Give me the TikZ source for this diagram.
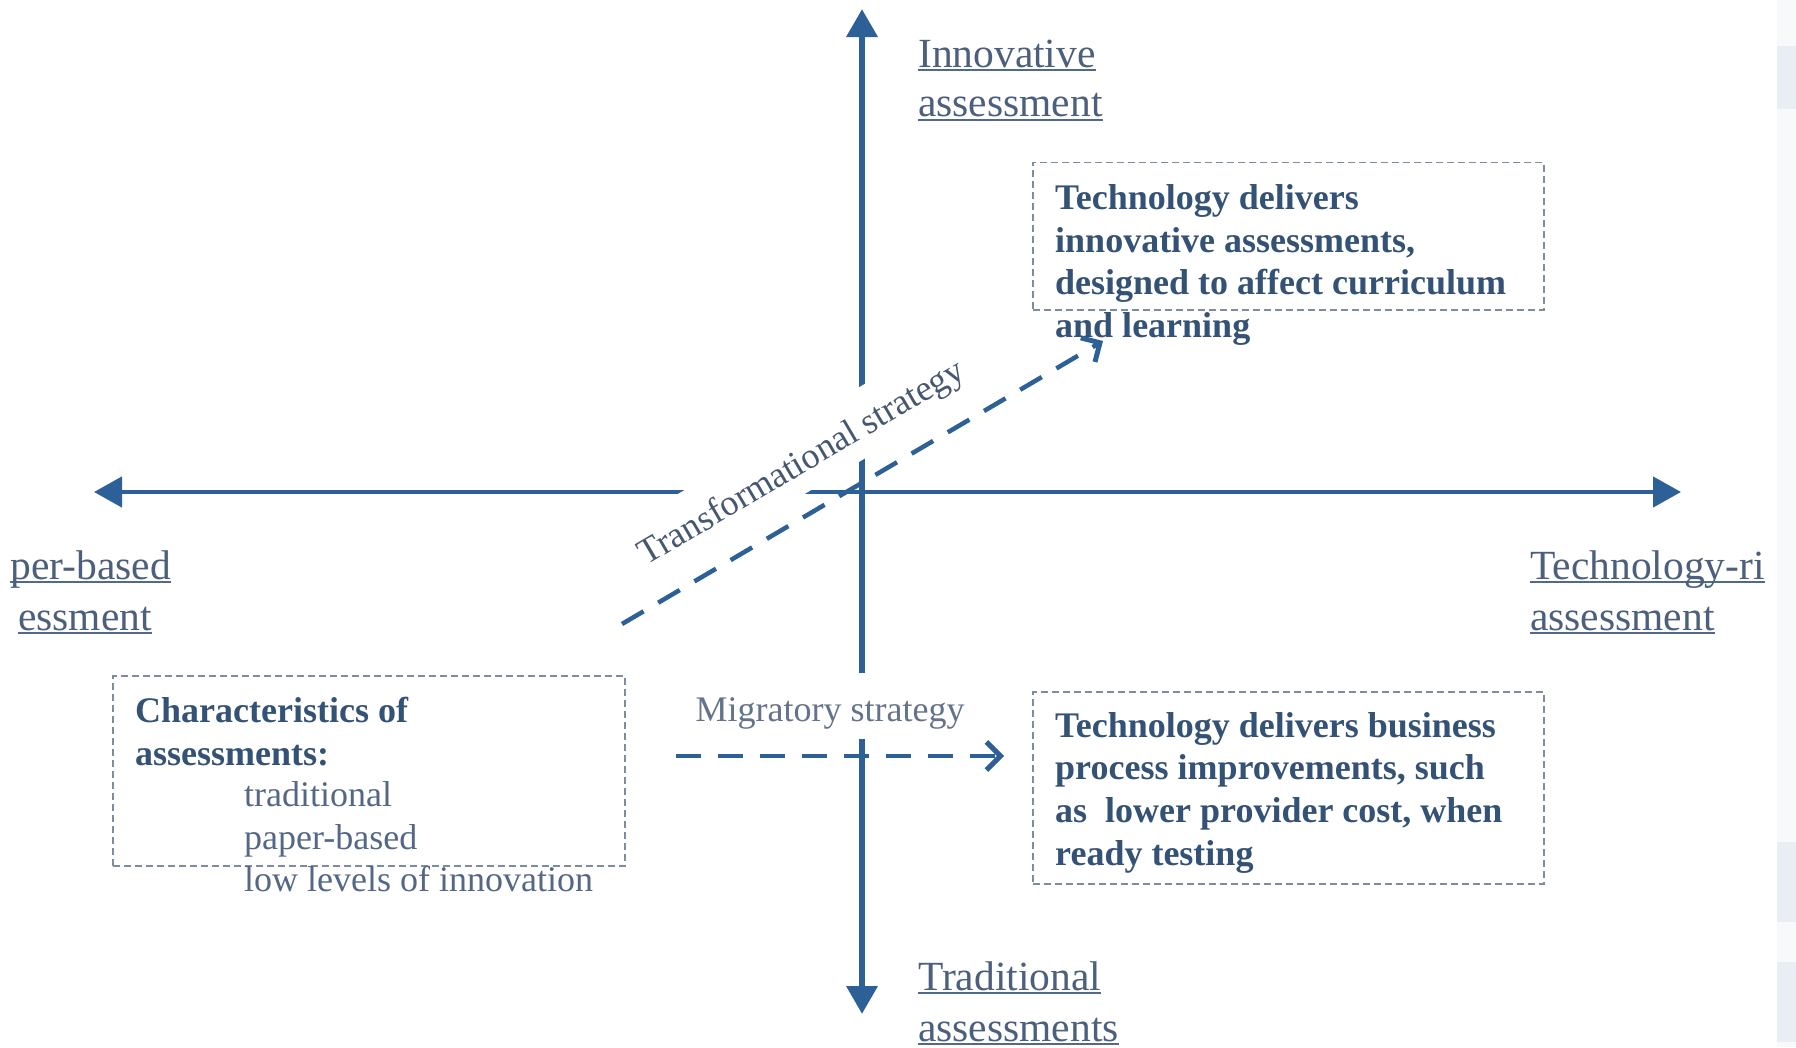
\documentclass[tikz,border=0pt]{standalone}
\usepackage{fontspec}
\setmainfont{Liberation Serif}
\usetikzlibrary{arrows.meta}
\definecolor{axisblue}{RGB}{46,96,152}
\definecolor{labeltext}{RGB}{76,95,124}
\definecolor{boxtext}{RGB}{52,82,118}
\definecolor{regtext}{RGB}{84,104,134}
\definecolor{boxline}{RGB}{125,140,160}
\definecolor{migtext}{RGB}{100,115,138}
\definecolor{transtext}{RGB}{70,88,112}
\definecolor{ulcolor}{RGB}{80,105,140}
\definecolor{stripbg}{RGB}{248,249,251}
\definecolor{stripblk}{RGB}{233,238,244}
\newcommand\uln[1]{\setbox0=\hbox{#1}\rlap{\color{ulcolor}\rule[-0.1em]{\wd0}{0.055em}}\box0}
\newcommand\lns[1]{\begin{tabular}[t]{@{}l@{}}#1\end{tabular}}
\begin{document}
\begin{tikzpicture}[x=1pt,y=-1pt,
  axtip/.tip={Triangle[length=28pt,width=30pt]},
  axisv/.style={draw=axisblue, line width=6.5pt, axtip-axtip},
  axish/.style={draw=axisblue, line width=4.5pt, axtip-axtip},
  strat/.style={draw=axisblue, line width=4.5pt, dash pattern=on 25pt off 17pt,
    -{Straight Barb[length=14pt,width=28pt,line width=5pt]}},
  dbox/.style={draw=boxline, line width=1.6pt, dash pattern=on 7pt off 4pt,
    rectangle, inner sep=0pt, anchor=north west},
  btext/.style={inner sep=0pt, anchor=base west, text=boxtext,
    font=\fontsize{36}{42.7}\selectfont\bfseries},
  rtext/.style={inner sep=0pt, anchor=base west, text=regtext,
    font=\fontsize{36}{42.7}\selectfont},
  alab/.style={inner sep=0pt, anchor=base west, text=labeltext,
    font=\fontsize{41.5}{49.5}\selectfont},
  alabwide/.style={alab, font=\fontsize{41.5}{51}\selectfont},
  translab/.style={fill=white, rotate=30.5, inner xsep=4pt, inner ysep=15.5pt,
    text height=30.6pt, text depth=2.7pt,
    text=transtext, font=\fontsize{36}{43}\selectfont},
  miglab/.style={fill=white, inner xsep=2pt, inner ysep=17pt,
    text height=31.2pt, text depth=1.2pt,
    text=migtext, font=\fontsize{36}{42.7}\selectfont}
]
\fill[white] (0,0) rectangle (1796,1047);
\useasboundingbox (0,0) rectangle (1796,1047);

% axes
\coordinate (vtop) at (862,9);
\coordinate (vbot) at (862,1014);
\coordinate (hleft) at (94,492);
\coordinate (hright) at (1681,492);
\draw[axisv] (vbot) -- (vtop);
\draw[axish] (hleft) -- (hright);

% strategy labels (white background interrupts the axes)
\node[translab] (trans) at (804,457) {Transformational strategy\hspace*{10pt}};
\node[miglab] (mig) at (830,706) {Migratory strategy};

% strategy arrows
\coordinate (ts) at (622,624);
\coordinate (te) at (1103,341);
\draw[strat] (ts) -- (te);
\coordinate (ms) at (676,756);
\coordinate (me) at (1004,756);
\draw[strat] (ms) -- (me);

% dashed boxes
\node[dbox, minimum width=511pt, minimum height=147.5pt] (boxtr) at (1032,161.5) {};
\node[dbox, minimum width=511pt, minimum height=192pt] (boxbr) at (1032,691) {};
\node[dbox, minimum width=512pt, minimum height=190pt] (boxl) at (112,675) {};

% box texts
\node[btext] (txttr) at (1055,209.5) {\lns{Technology delivers\\innovative assessments,\\designed to affect curriculum\\and learning}};
\node[btext] (txtbr) at (1055,737) {\lns{Technology delivers business\\process improvements, such\\as~ lower provider cost, when\\ready testing}};
\node[btext] (txtl1) at (135,722.5) {\lns{Characteristics of\\assessments:}};
\node[rtext] (txtl2) at (244,806.5) {\lns{traditional\\paper-based\\low levels of innovation}};

% axis labels
\node[alab] (innov) at (918,67.3) {\lns{\uln{Innovative}\\\uln{assessment}}};
\node[alabwide] (trad) at (918,990) {\lns{\uln{Traditional}\\\uln{assessments}}};
\node[alab, anchor=base east] (paper1) at (171,579) {\uln{per-based}};
\node[alab, anchor=base east] (paper2) at (152,630) {\uln{essment}};
\node[alabwide] (techr) at (1530,579) {\lns{\uln{Technology-ri}\\\uln{assessment}}};

% right edge strip
\fill[stripbg] (1777,0) rectangle (1796,1047);
\fill[stripblk] (1777,46) rectangle (1796,109);
\fill[stripblk] (1777,842) rectangle (1796,922);
\fill[stripblk] (1777,962) rectangle (1796,1042);
\end{tikzpicture}
\end{document}
